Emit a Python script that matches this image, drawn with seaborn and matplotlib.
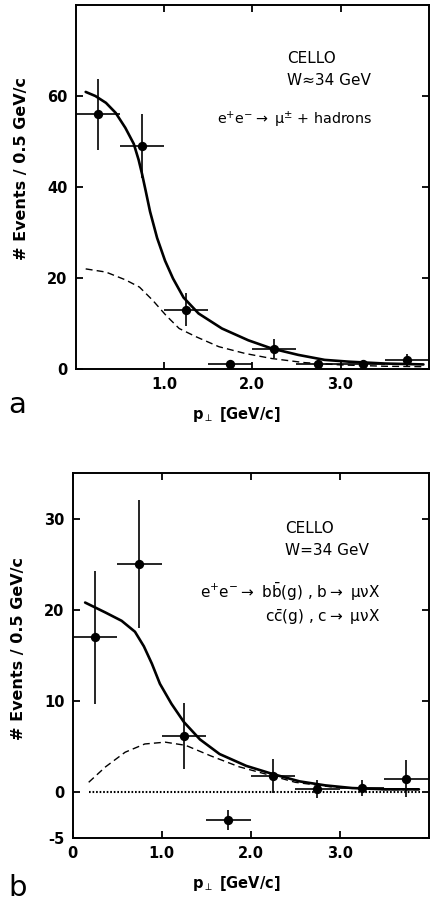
#!/usr/bin/env python
# filename: plot.py

import numpy as np
import pandas as pd

import matplotlib
matplotlib.use('Agg')
import matplotlib.pyplot as plt
import seaborn as sns

# bin centres (0.5 GeV/c bins)
pt_bins = [0.25, 0.75, 1.25, 1.75, 2.25, 2.75, 3.25, 3.75]
pt_halfwidth = [0.25] * 8

# panel a: e+e- -> mu + hadrons
events_a = [56, 49, 13, 1, 4.5, 1, 1, 2]
err_a = [7.8, 7.0, 3.6, 1.0, 2.0, 1.0, 1.0, 1.3]
fit_a_x = [0.11, 0.22, 0.34, 0.45, 0.56, 0.655, 0.71, 0.75, 0.79, 0.84, 0.92, 1.01,
           1.1, 1.22, 1.39, 1.655, 1.955, 2.22, 2.52, 2.82, 3.1, 3.5, 3.94]
fit_a_y = [60.9, 60.0, 58.5, 56.3, 53.0, 49.5, 46.0, 42.8, 39.2, 34.6, 28.8, 23.8,
           19.9, 15.7, 12.2, 8.9, 6.3, 4.5, 3.1, 2.0, 1.6, 1.2, 1.0]
bkg_a_x = [0.11, 0.34, 0.56, 0.72, 0.87, 1.02, 1.17, 1.36, 1.62, 1.92, 2.22, 2.59,
           3.0, 3.5, 3.94]
bkg_a_y = [22.0, 21.3, 19.6, 18.0, 15.1, 11.8, 8.9, 7.1, 4.9, 3.4, 2.3, 1.4,
           0.9, 0.6, 0.5]

# panel b: heavy quark decays
events_b = [17, 25, 6.2, -3.0, 1.8, 0.4, 0.5, 1.5]
err_b = [7.3, 7.0, 3.6, 1.1, 1.9, 1.0, 0.9, 2.0]
fit_b_x = [0.14, 0.37, 0.55, 0.70, 0.80, 0.89, 0.98, 1.11, 1.25, 1.43, 1.65, 1.95,
           2.25, 2.55, 2.84, 3.14, 3.52, 3.89]
fit_b_y = [20.8, 19.7, 18.8, 17.6, 16.0, 14.1, 11.9, 9.7, 7.7, 5.8, 4.2, 2.9,
           2.0, 1.2, 0.76, 0.47, 0.33, 0.33]
sig_b_x = [0.18, 0.37, 0.59, 0.81, 1.04, 1.27, 1.55, 1.87, 2.17, 2.5, 2.9, 3.5, 3.89]
sig_b_y = [1.1, 2.8, 4.4, 5.3, 5.5, 5.15, 4.0, 2.8, 2.0, 1.1, 0.6, 0.3, 0.3]
zero_x = [0.18, 3.9]
zero_y = [0, 0]

sns.set_style('ticks')
plt.rcParams['font.family'] = ['DejaVu Sans']
plt.rcParams['mathtext.default'] = 'regular'
plt.rcParams['axes.unicode_minus'] = False
plt.rcParams['text.color'] = 'black'
plt.rcParams['axes.labelcolor'] = 'black'
plt.rcParams['xtick.color'] = 'black'
plt.rcParams['ytick.color'] = 'black'
plt.rcParams['axes.edgecolor'] = 'black'

fig = plt.figure(figsize=(4.3, 9.14), dpi=100)
ax_a = fig.add_axes([0.1767, 0.5963, 0.8203, 0.3982])
ax_b = fig.add_axes([0.169, 0.0832, 0.828, 0.3993])


def draw_panel(ax, events, err, fit_x, fit_y, dash_x, dash_y):
    ax.errorbar(pt_bins, events, xerr=pt_halfwidth, yerr=err, fmt='none',
                ecolor='black', elinewidth=1.2, capsize=0, zorder=2)
    sns.scatterplot(x=pt_bins, y=events, ax=ax, color='black', s=45,
                    edgecolor='black', linewidth=0, zorder=3)
    sns.lineplot(x=fit_x, y=fit_y, ax=ax, color='black', lw=1.9, zorder=2)
    sns.lineplot(x=dash_x, y=dash_y, ax=ax, color='black', lw=1.0,
                 linestyle=(0, (5, 3)), zorder=2)
    ax.set_xlim(0, 4.0)
    for s in ax.spines.values():
        s.set_linewidth(1.4)
        s.set_visible(True)
    ax.tick_params(direction='in', length=5, width=1.3, top=True, right=True,
                   labelsize=10.5, pad=6)
    for lab in ax.get_xticklabels() + ax.get_yticklabels():
        lab.set_fontweight('bold')
    ax.set_ylabel('# Events / 0.5 GeV/c', fontsize=11.5, fontweight='bold')
    ax.set_xlabel(r'p$_{\perp}$ [GeV/c]', fontsize=10.5, fontweight='bold')


# panel a
ax_a.set_ylim(0, 80)
ax_a.set_yticks([0, 20, 40, 60])
ax_a.set_xticks([1, 2, 3])
ax_a.set_xticklabels(['1.0', '2.0', '3.0'])
draw_panel(ax_a, events_a, err_a, fit_a_x, fit_a_y, bkg_a_x, bkg_a_y)
ax_a.yaxis.set_label_coords(-0.132, 0.55)
ax_a.xaxis.set_label_coords(0.455, -0.1)
ax_a.text(0.599, 0.854, 'CELLO', transform=ax_a.transAxes, fontsize=11, va='center')
ax_a.text(0.599, 0.794, 'W\u224834 GeV', transform=ax_a.transAxes, fontsize=11, va='center')
ax_a.text(0.40, 0.684, r'e$^{+}$e$^{-}$$\rightarrow$ $\mu^{\pm}$ + hadrons',
          transform=ax_a.transAxes, fontsize=10.3, va='center')
fig.text(0.02, 1 - 405 / 914, 'a', fontsize=21, va='center', ha='left')

# panel b
ax_b.set_ylim(-5, 35)
ax_b.set_yticks([-5, 0, 10, 20, 30])
ax_b.set_xticks([0, 1, 2, 3])
ax_b.set_xticklabels(['0', '1.0', '2.0', '3.0'])
draw_panel(ax_b, events_b, err_b, fit_b_x, fit_b_y, sig_b_x, sig_b_y)
sns.lineplot(x=zero_x, y=zero_y, ax=ax_b, color='black', lw=1.5,
             linestyle=(0, (0.8, 0.9)), zorder=2)
ax_b.yaxis.set_label_coords(-0.131, 0.52)
ax_b.xaxis.set_label_coords(0.46, -0.1)
ax_b.text(0.597, 0.847, 'CELLO', transform=ax_b.transAxes, fontsize=11, va='center')
ax_b.text(0.597, 0.789, 'W=34 GeV', transform=ax_b.transAxes, fontsize=11, va='center')
ax_b.text(0.864, 0.674, r'e$^{+}$e$^{-}$$\rightarrow$ b$\bar{b}$(g) , b$\rightarrow$ $\mu\nu$X',
          transform=ax_b.transAxes, fontsize=11, va='center', ha='right')
ax_b.text(0.864, 0.603, r'c$\bar{c}$(g) , c$\rightarrow$ $\mu\nu$X',
          transform=ax_b.transAxes, fontsize=11, va='center', ha='right')
fig.text(0.02, 1 - 888 / 914, 'b', fontsize=21, va='center', ha='left')

fig.savefig('out.png', dpi=100)
